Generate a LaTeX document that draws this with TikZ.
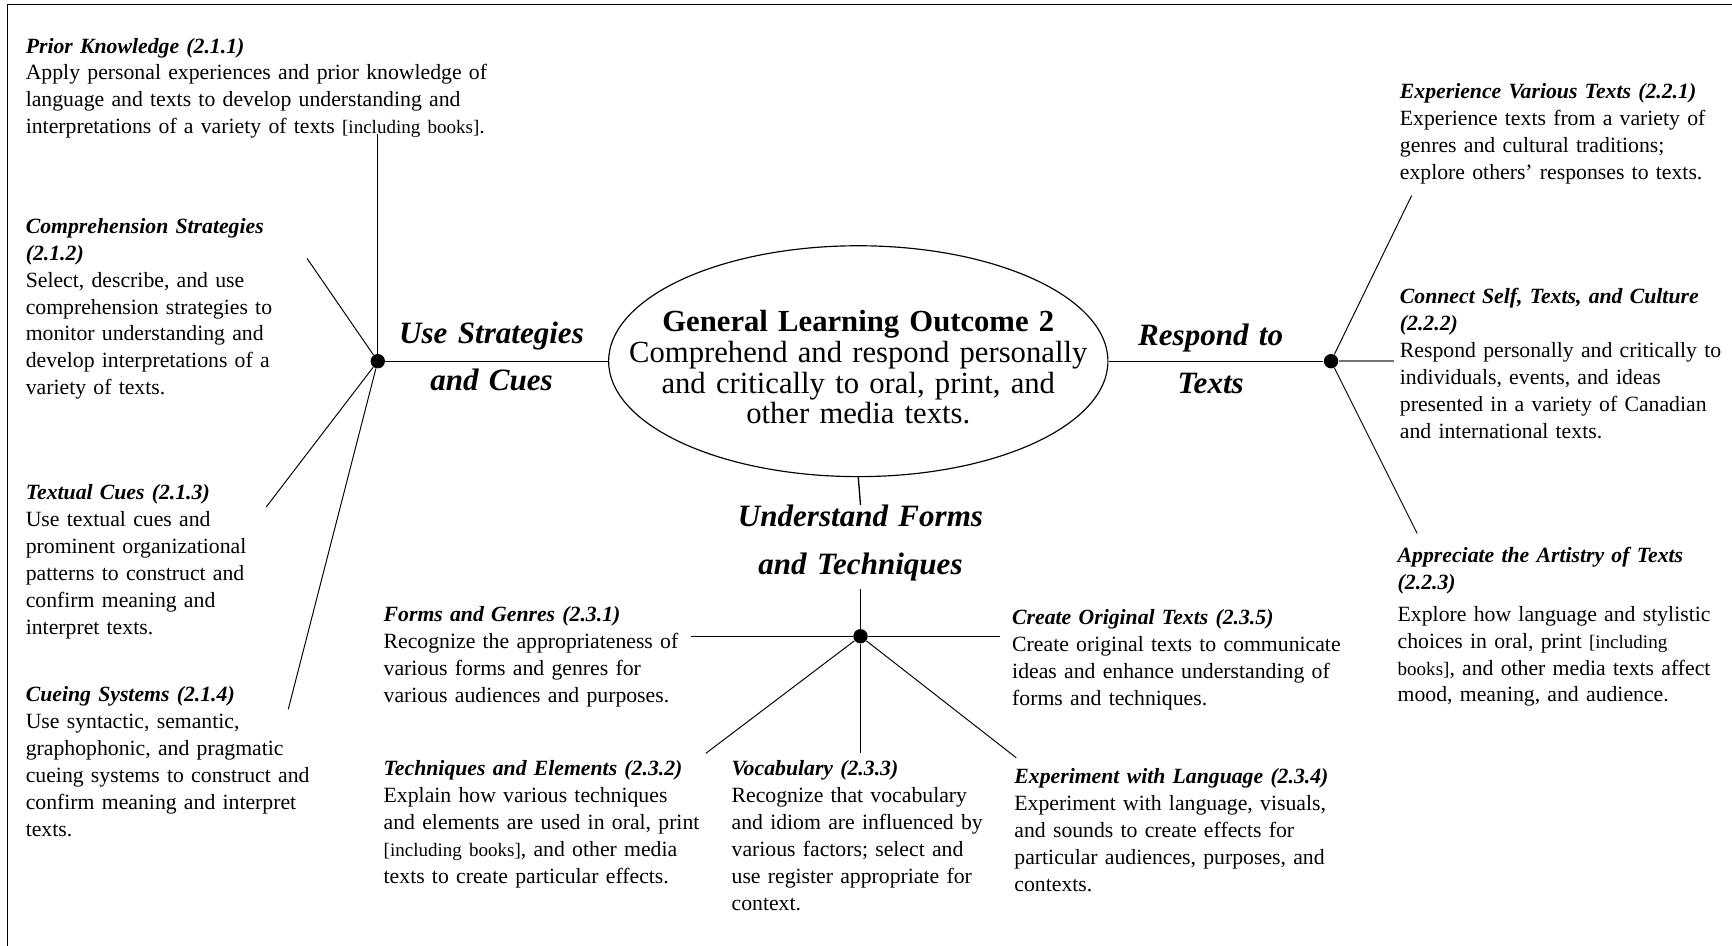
\documentclass[tikz,border=0pt]{standalone}
\usepackage{fontspec}
\setmainfont{Liberation Serif}
\usetikzlibrary{shapes.geometric}
\newcommand{\otitle}[1]{\textbf{\textit{#1}}}
\newcommand{\incl}[1]{{\fontsize{9.8}{13.9}\selectfont #1}}
\tikzset{
  outcome/.style = {anchor=base west, align=left, inner sep=0pt, text width=70mm, font=\fontsize{11.2}{13.9}\selectfont},
  strand/.style = {anchor=base, align=center, inner sep=0pt, text width=60mm, font=\fontsize{16}{24.4}\selectfont\bfseries\itshape},
  hub/.style = {circle, fill=black, inner sep=0pt, minimum size=2.6mm},
  goal/.style = {ellipse, draw=black, line width=0.6pt, inner sep=0pt, minimum width=90.4mm, minimum height=41.8mm},
  goaltext/.style = {anchor=base, align=center, inner sep=0pt, text width=90mm, font=\fontsize{15.8}{15.9}\selectfont},
  link/.style = {line width=0.5pt},
}

\begin{document}
\begin{tikzpicture}[x=0.2mm, y=-0.2mm]
  \useasboundingbox (0,0) rectangle (1568,856);
  % frame
  \draw[line width=0.8pt] (6.6,856) -- (6.6,4.2) -- (1568,4.2);

  % centre
  \node[goal] (glo) at (777,327) {};
  \node[goaltext] (glotext) at (777,300) {\textbf{General Learning Outcome 2}\\Comprehend and respond personally\\and critically to oral, print, and\\other media texts.};

  % hubs
  \node[hub] (hubS) at (342,327) {};
  \node[hub] (hubR) at (1205,327) {};
  \node[hub] (hubF) at (779,576) {};

  % strand labels
  \node[strand] (useStrat) at (445,311) {Use Strategies\\and Cues};
  \node[strand] (respond) at (1096,313) {Respond to\\Texts};
  \node[strand] (understand) at (779,477) {Understand Forms\\and Techniques};

  % use strategies and cues
  \node[outcome, text width=95mm] (prior) at (23,48) {\otitle{Prior Knowledge (2.1.1)}\\Apply personal experiences and prior knowledge of\\language and texts to develop understanding and\\interpretations of a variety of texts \incl{[including books]}.};
  \node[outcome] (compr) at (23,211) {\otitle{Comprehension Strategies}\\\otitle{(2.1.2)}\\Select, describe, and use\\comprehension strategies to\\monitor understanding and\\develop interpretations of a\\variety of texts.};
  \node[outcome] (textual) at (23,452) {\otitle{Textual Cues (2.1.3)}\\Use textual cues and\\prominent organizational\\patterns to construct and\\confirm meaning and\\interpret texts.};
  \node[outcome] (cueing) at (23,635) {\otitle{Cueing Systems (2.1.4)}\\Use syntactic, semantic,\\graphophonic, and pragmatic\\cueing systems to construct and\\confirm meaning and interpret\\texts.};

  % respond to texts
  \node[outcome] (experience) at (1267,89) {\otitle{Experience Various Texts (2.2.1)}\\Experience texts from a variety of\\genres and cultural traditions;\\explore others' responses to texts.};
  \node[outcome] (connect) at (1267,275) {\otitle{Connect Self, Texts, and Culture}\\\otitle{(2.2.2)}\\Respond personally and critically to\\individuals, events, and ideas\\presented in a variety of Canadian\\and international texts.};
  \node[outcome] (artistry) at (1265,509) {\otitle{Appreciate the Artistry of Texts}\\\otitle{(2.2.3)}\\[2.5pt]Explore how language and stylistic\\choices in oral, print \incl{[including}\\\incl{books]}, and other media texts affect\\mood, meaning, and audience.};

  % understand forms and techniques
  \node[outcome] (forms) at (347,563) {\otitle{Forms and Genres (2.3.1)}\\Recognize the appropriateness of\\various forms and genres for\\various audiences and purposes.};
  \node[outcome] (techniques) at (347,702) {\otitle{Techniques and Elements (2.3.2)}\\Explain how various techniques\\and elements are used in oral, print\\\incl{[including books]}, and other media\\texts to create particular effects.};
  \node[outcome] (vocab) at (662,702) {\otitle{Vocabulary (2.3.3)}\\Recognize that vocabulary\\and idiom are influenced by\\various factors; select and\\use register appropriate for\\context.};
  \node[outcome] (create) at (916,565) {\otitle{Create Original Texts (2.3.5)}\\Create original texts to communicate\\ideas and enhance understanding of\\forms and techniques.};
  \node[outcome] (experiment) at (918,709) {\otitle{Experiment with Language (2.3.4)}\\Experiment with language, visuals,\\and sounds to create effects for\\particular audiences, purposes, and\\contexts.};

  % free ends of the connectors
  \coordinate (prior-end) at (342,121);
  \coordinate (compr-end) at (278,234);
  \coordinate (textual-end) at (241,459);
  \coordinate (cueing-end) at (261,642);
  \coordinate (experience-end) at (1278,177);
  \coordinate (connect-end) at (1262,327);
  \coordinate (artistry-end) at (1283,483);
  \coordinate (forms-end) at (626,576);
  \coordinate (create-end) at (905,576);
  \coordinate (techniques-end) at (639,682);
  \coordinate (vocab-end) at (779,682);
  \coordinate (experiment-end) at (920,686);
  \coordinate (understand-top) at (779,457);
  \coordinate (understand-bot) at (779,533);

  % connectors
  \draw[link, line width=0.7pt] (hubS) -- (glo.west);
  \draw[link, line width=0.7pt] (glo.east) -- (hubR);
  \draw[link, line width=0.7pt] (glo.south) -- (understand-top);
  \draw[link, line width=0.7pt] (understand-bot) -- (hubF);

  \draw[link] (hubS) -- (prior-end);
  \draw[link] (hubS) -- (compr-end);
  \draw[link] (hubS) -- (textual-end);
  \draw[link] (hubS) -- (cueing-end);

  \draw[link] (hubR) -- (experience-end);
  \draw[link, black!55, line width=0.8pt] (hubR) -- (connect-end);
  \draw[link] (hubR) -- (artistry-end);

  \draw[link, line width=0.7pt] (hubF) -- (forms-end);
  \draw[link, line width=0.7pt] (hubF) -- (create-end);
  \draw[link] (hubF) -- (techniques-end);
  \draw[link] (hubF) -- (vocab-end);
  \draw[link] (hubF) -- (experiment-end);
\end{tikzpicture}
\end{document}
